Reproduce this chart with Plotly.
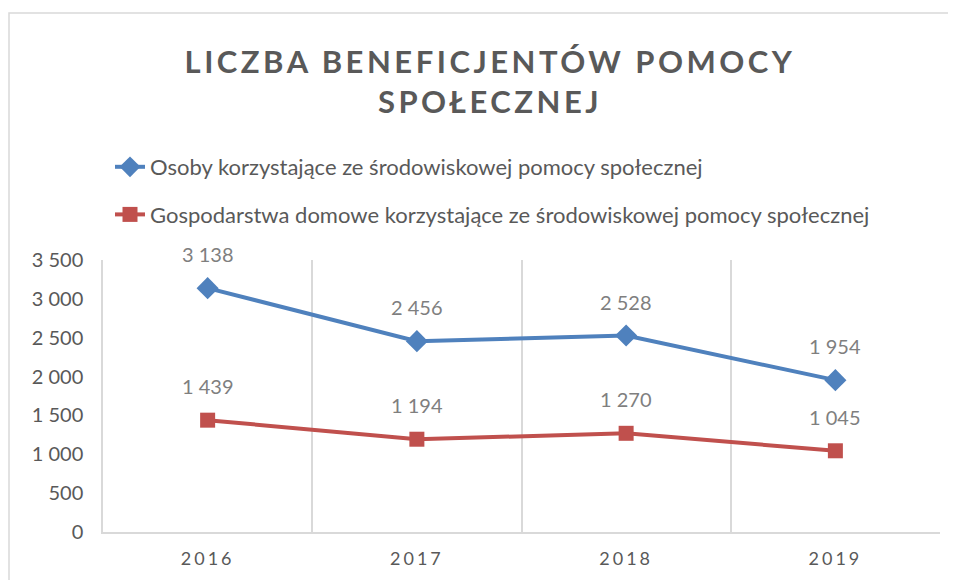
import plotly.graph_objects as go

years = ["2016", "2017", "2018", "2019"]
osoby = [3138, 2456, 2528, 1954]
gospodarstwa = [1439, 1194, 1270, 1045]
series_names = [
    "Osoby korzystające ze środowiskowej pomocy społecznej",
    "Gospodarstwa domowe korzystające ze środowiskowej pomocy społecznej",
]
title_lines = ["LICZBA BENEFICJENTÓW POMOCY", "SPOŁECZNEJ"]
y_ticks = [0, 500, 1000, 1500, 2000, 2500, 3000, 3500]

BLUE = "#4F81BD"
RED = "#C0504D"
GRAY = "#595959"
LABEL_GRAY = "#7F7F7F"
GRID = "#D9D9D9"
FONT = "Lato"

W, H = 956, 580
OFF = 8  # page body margin offset
# target screen-pixel plot area
SL, SR, ST, SB = 103, 940, 260, 532
ML, MT = SL - OFF, ST - OFF
MR, MB = W - (SR - OFF), H - (SB - OFF)
PW = SR - SL
PH = SB - ST


def px_x(sx):
    return (sx - SL) / PW


def px_y(sy):
    return (SB - sy) / PH


def fmt(v):
    return f"{v:,}".replace(",", " ")


fig = go.Figure()
fig.add_trace(go.Scatter(
    x=years, y=osoby, mode="lines+markers", name=series_names[0],
    legendgroup="a",
    line=dict(color=BLUE, width=4),
    marker=dict(symbol="diamond", size=17, color=BLUE),
))
fig.add_trace(go.Scatter(
    x=years, y=gospodarstwa, mode="lines+markers", name=series_names[1],
    legendgroup="b",
    line=dict(color=RED, width=4),
    marker=dict(symbol="square", size=15, color=RED),
))

annotations = []
for ys in (osoby, gospodarstwa):
    for i, v in enumerate(ys):
        annotations.append(dict(
            x=i, y=v, xref="x", yref="y", text=fmt(v), showarrow=False,
            yshift=34, font=dict(family=FONT, size=20, color=LABEL_GRAY),
        ))

# chart border (light gray frame)
shapes = [dict(type="rect", xref="paper", yref="paper",
               x0=px_x(9), x1=px_x(W + 20), y0=px_y(H + 20), y1=px_y(13),
               line=dict(color=GRID, width=1.5), layer="below")]

fig.update_layout(
    width=W, height=H,
    margin=dict(l=ML, r=MR, t=MT, b=MB),
    paper_bgcolor="white", plot_bgcolor="white",
    separators=", ",
    title=dict(
        text="<b><span style='letter-spacing:3.5px'>" + "<br>".join(title_lines) + "</span></b>",
        x=(490 - OFF) / W, xanchor="center", y=1 - (73 - OFF) / H, yanchor="middle",
        font=dict(family=FONT, size=31, color=GRAY),
    ),
    legend=dict(
        x=px_x(110), xanchor="left", y=px_y(146), yanchor="top",
        orientation="v", tracegroupgap=16,
        font=dict(family=FONT, size=22, color=GRAY),
        bgcolor="rgba(0,0,0,0)",
    ),
    xaxis=dict(
        type="category", tickmode="array", tickvals=years,
        ticktext=[f"<span style='letter-spacing:3px'>{y}</span>" for y in years],
        tickson="boundaries", showgrid=True, gridcolor=GRID, gridwidth=1.5,
        showline=True, linecolor=GRID, linewidth=2, ticks="",
        ticklabelstandoff=9,
        tickfont=dict(family=FONT, size=18, color=GRAY),
        range=[-0.5, 3.5], fixedrange=True,
    ),
    yaxis=dict(
        range=[0, 3500], tickvals=y_ticks, tickformat=",d",
        showgrid=False, showline=True, linecolor=GRID, linewidth=1.5,
        zeroline=False, ticks="", ticklabelstandoff=14,
        tickfont=dict(family=FONT, size=20, color=GRAY),
        fixedrange=True,
    ),
    annotations=annotations,
    shapes=shapes,
)

fig.write_html("out.html")
